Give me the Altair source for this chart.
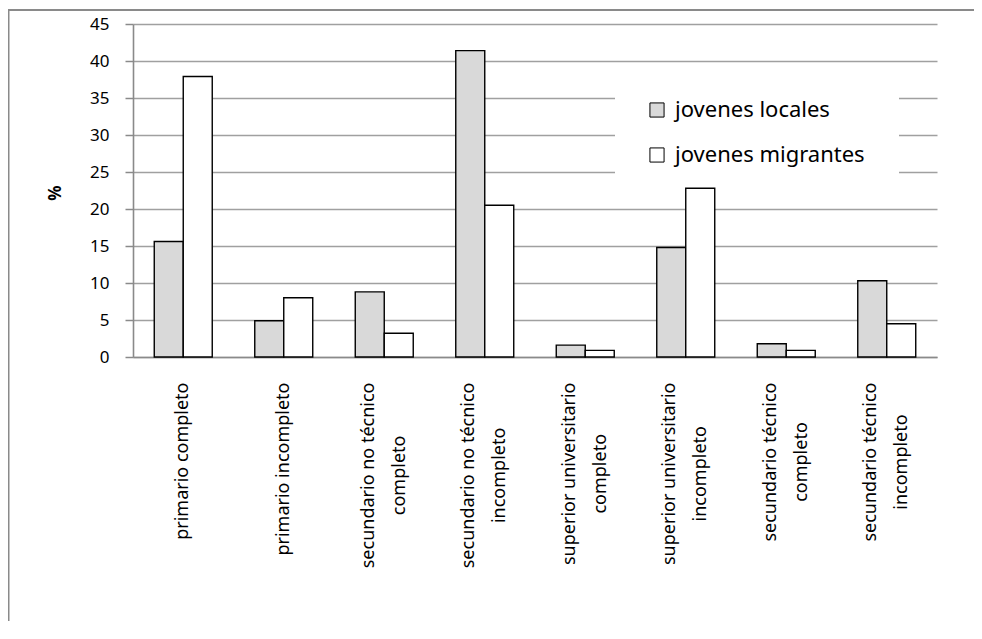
import altair as alt
import pandas as pd

categories = [
    "primario completo",
    "primario incompleto",
    "secundario no técnico|completo",
    "secundario no técnico|incompleto",
    "superior universitario|completo",
    "superior universitario|incompleto",
    "secundario técnico|completo",
    "secundario técnico|incompleto",
]
series = ["jovenes locales", "jovenes migrantes"]
locales = [15.6, 4.9, 8.8, 41.4, 1.6, 14.8, 1.8, 10.3]
migrantes = [37.9, 8.0, 3.2, 20.5, 0.9, 22.8, 0.9, 4.5]
y_ticks = [0, 5, 10, 15, 20, 25, 30, 35, 40, 45]

rows = []
for c, a, b in zip(categories, locales, migrantes):
    rows.append({"cat": c, "serie": series[0], "valor": a})
    rows.append({"cat": c, "serie": series[1], "valor": b})
df = pd.DataFrame(rows)

W, H = 804, 333
FONT = "Noto Sans"
XFS = 18       # x label font size
LH = 31        # line height of two-line labels
GAP = 25       # gap between x axis and top of the labels

# approximate Noto Sans advance widths (em) to centre rotated labels below the axis
CW = {"a": .561, "b": .615, "c": .48, "d": .615, "e": .564, "é": .564, "i": .258,
      "l": .258, "m": .935, "n": .618, "o": .605, "p": .615, "r": .413, "s": .479,
      "t": .361, "u": .618, "v": .508, " ": .26}


def first_line_width(label):
    return sum(CW.get(ch, .55) for ch in label.split("|")[0]) * XFS


pad_cond = [
    {"test": f"datum.value === '{c}'", "value": GAP + first_line_width(c) / 2}
    for c in categories
]
off_cond = [
    {"test": "indexof(datum.value, '|') >= 0", "value": -LH / 2}
]

bars = alt.Chart(df).mark_bar(stroke="black", strokeWidth=1.4).encode(
    x=alt.X(
        "cat:N",
        sort=categories,
        scale=alt.Scale(paddingInner=0.423, paddingOuter=0.2115),
        axis=alt.Axis(
            title=None,
            labelAngle=270,
            labelAlign="center",
            labelBaseline="middle",
            labelExpr="split(datum.label, '|')",
            labelLineHeight=LH,
            labelPadding={"condition": pad_cond, "value": GAP},
            labelOffset={"condition": off_cond, "value": 0},
            labelFontSize=XFS,
            labelLimit=0,
            labelOverlap=False,
            labelColor="black",
            ticks=False,
            tickSize=0,
            domainColor="#8a8a8a",
            domainWidth=1.6,
            grid=False,
        ),
    ),
    xOffset=alt.XOffset("serie:N", sort=series),
    y=alt.Y(
        "valor:Q",
        scale=alt.Scale(domain=[0, 45], nice=False),
        axis=alt.Axis(
            title="%",
            values=y_ticks,
            titleFontWeight="bold",
            titleFontSize=17,
            titleColor="black",
            titleAngle=270,
            titleX=-78,
            titleY=H / 2 + 2,
            titleAlign="center",
            titleBaseline="middle",
            labelFontSize=17,
            labelColor="black",
            labelPadding=16,
            tickSize=8,
            tickColor="#8a8a8a",
            tickWidth=1.5,
            domainColor="#8a8a8a",
            domainWidth=1.6,
            grid=True,
            gridColor="#a0a0a0",
            gridWidth=1.5,
        ),
    ),
    fill=alt.Fill(
        "serie:N",
        sort=series,
        scale=alt.Scale(domain=series, range=["#d9d9d9", "#ffffff"]),
        legend=alt.Legend(
            title=None,
            orient="none",
            legendX=513,
            legendY=75,
            symbolType="square",
            symbolSize=200,
            symbolStrokeColor="black",
            symbolStrokeWidth=1,
            symbolOpacity=1,
            labelFontSize=22,
            labelColor="black",
            labelOffset=7,
            labelLimit=400,
            rowPadding=23,
            padding=0,
        ),
    ),
)

one = pd.DataFrame({"a": [0]})

legend_bg = alt.Chart(one).mark_rect(fill="white", stroke=None).encode(
    x=alt.value(482), x2=alt.value(766), y=alt.value(62), y2=alt.value(152)
)

border_top = alt.Chart(one).mark_rule(color="#8a8a8a", strokeWidth=2).encode(
    x=alt.value(-125), x2=alt.value(860), y=alt.value(-14)
)
border_left = alt.Chart(one).mark_rule(color="#8a8a8a", strokeWidth=2).encode(
    x=alt.value(-124.5), y=alt.value(-15), y2=alt.value(600)
)

chart = (
    alt.layer(legend_bg, bars, border_top, border_left)
    .properties(
        width=W,
        height=H,
        autosize=alt.AutoSizeParams(type="none"),
        padding={"left": 125, "top": 16, "right": 37, "bottom": 264},
    )
    .configure(font=FONT)
    .configure_view(stroke=None)
)

chart.save("out.html", embed_options={"renderer": "svg", "actions": False})
